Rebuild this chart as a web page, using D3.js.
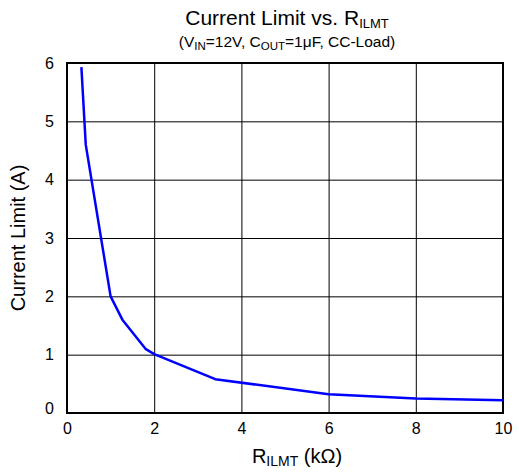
<!DOCTYPE html>
<html>
<head>
<meta charset="utf-8">
<script src="https://cdn.jsdelivr.net/npm/d3@7"></script>
<style>
  html, body { margin: 0; padding: 0; background: #fff; }
  svg { display: block; font-family: "Liberation Sans", Arial, sans-serif; }
</style>
</head>
<body>
<svg id="chart" width="519" height="472"></svg>
<script>
// Current limit measured against the R_ILMT resistor value
const resistanceK = [0.33, 0.43, 1.0, 1.27, 1.8, 2.0, 3.4, 6.0, 8.0, 10.0];
const currentLimitA = [5.93, 4.6, 2.0, 1.6, 1.1, 1.01, 0.58, 0.32, 0.25, 0.22];
const xTicks = [0, 2, 4, 6, 8, 10];
const yTicks = [0, 1, 2, 3, 4, 5, 6];

const svg = d3.select("#chart");
const plot = { left: 67, right: 503, top: 63, bottom: 413 };

const x = d3.scaleLinear().domain([0, 10]).range([plot.left, plot.right]);
const y = d3.scaleLinear().domain([0, 6]).range([plot.bottom, plot.top]);

// Grid lines
const gridX = svg.append("g")
  .attr("transform", `translate(0,${plot.bottom})`)
  .call(d3.axisBottom(x).tickValues(xTicks).tickSize(-(plot.bottom - plot.top)).tickFormat(""));
const gridY = svg.append("g")
  .attr("transform", `translate(${plot.left},0)`)
  .call(d3.axisLeft(y).tickValues(yTicks).tickSize(-(plot.right - plot.left)).tickFormat(""));
[gridX, gridY].forEach(g => {
  g.select(".domain").remove();
  g.selectAll(".tick text").remove();
  g.selectAll(".tick line").attr("stroke", "#000").attr("stroke-width", 1);
});

// Tick labels
const xAxis = svg.append("g")
  .attr("transform", `translate(0,${plot.bottom})`)
  .call(d3.axisBottom(x).tickValues(xTicks).tickSize(0).tickPadding(10).tickFormat(d3.format("d")));
const yAxis = svg.append("g")
  .attr("transform", `translate(${plot.left},0)`)
  .call(d3.axisLeft(y).tickValues(yTicks).tickSize(0).tickPadding(13).tickFormat(d3.format("d")));
[xAxis, yAxis].forEach(g => {
  g.select(".domain").remove();
  g.selectAll("text").attr("font-size", 16).attr("fill", "#000")
    .attr("font-family", "'Liberation Sans', Arial, sans-serif");
});
yAxis.selectAll(".tick").filter(d => d === 0).select("text").attr("dy", "0em");

// Plot frame
svg.append("rect")
  .attr("x", plot.left).attr("y", plot.top)
  .attr("width", plot.right - plot.left).attr("height", plot.bottom - plot.top)
  .attr("fill", "none").attr("stroke", "#000").attr("stroke-width", 2);

// Curve
const line = d3.line().x((d, i) => x(resistanceK[i])).y(d => y(d));
svg.append("path")
  .datum(currentLimitA)
  .attr("d", line)
  .attr("fill", "none")
  .attr("stroke", "#0000ff")
  .attr("stroke-width", 2.5)
  .attr("stroke-linejoin", "round");

// Text with subscripts: each part is [text, isSubscript]
function textWithSub(sel, parts, size, subSize, shift) {
  let offset = 0;
  sel.attr("font-size", size);
  parts.forEach(([t, sub]) => {
    const target = sub ? shift : 0;
    const span = sel.append("tspan").attr("font-size", sub ? subSize : size).text(t);
    if (target !== offset) span.attr("dy", target - offset);
    offset = target;
  });
}

const title = svg.append("text").attr("x", 287).attr("y", 25).attr("text-anchor", "middle");
textWithSub(title, [["Current Limit vs. R"], ["ILMT", true]], 21, 13, 3);

const subtitle = svg.append("text").attr("x", 287).attr("y", 47).attr("text-anchor", "middle");
textWithSub(subtitle, [["(V"], ["IN", true], ["=12V, C"], ["OUT", true], ["=1\u03BCF, CC-Load)"]], 15.5, 11.5, 2.5);

const xTitle = svg.append("text").attr("x", 297).attr("y", 463).attr("text-anchor", "middle");
textWithSub(xTitle, [["R"], ["ILMT", true], [" (k\u03A9)"]], 20, 14, 3);

svg.append("text")
  .attr("transform", `translate(25,${(plot.top + plot.bottom) / 2}) rotate(-90)`)
  .attr("text-anchor", "middle")
  .attr("font-size", 20)
  .text("Current Limit (A)");
</script>
</body>
</html>
